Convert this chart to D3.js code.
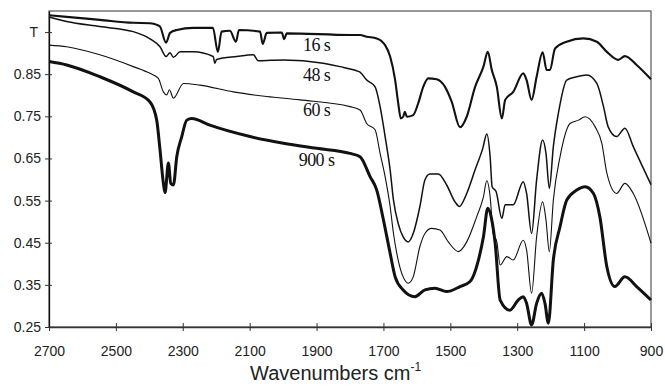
<!DOCTYPE html>
<html>
<head>
<meta charset="utf-8">
<script src="https://cdn.jsdelivr.net/npm/d3@7"></script>
<style>
  body { margin: 0; background: #fff; }
  svg { display: block; }
  .axis text { font-family: "Liberation Sans", Arial, sans-serif; font-size: 14px; fill: #222; }
  .series-label { font-family: "Liberation Serif", "Times New Roman", serif; font-size: 18px; letter-spacing: -0.6px; fill: #111; }
  .axis-title { font-family: "Liberation Sans", Arial, sans-serif; font-size: 20px; fill: #222; }
</style>
</head>
<body>
<svg id="chart" width="665" height="392"></svg>
<script>
// spectra: [wavenumber cm-1, transmittance]
const spec16 = [
  [2700, 0.990], [2647, 0.986], [2548, 0.979], [2448, 0.972], [2398, 0.971], [2377, 0.967],
  [2368, 0.963], [2350, 0.925], [2338, 0.948], [2318, 0.955], [2269, 0.960], [2210, 0.960],
  [2195, 0.903], [2184, 0.951], [2159, 0.953], [2141, 0.927], [2132, 0.955], [2069, 0.951],
  [2061, 0.922], [2049, 0.948], [2004, 0.949], [1997, 0.933], [1989, 0.947], [1800, 0.943],
  [1770, 0.943], [1750, 0.939], [1720, 0.935], [1705, 0.928], [1695, 0.919], [1680, 0.892],
  [1665, 0.836], [1656, 0.782], [1648, 0.745], [1641, 0.749], [1636, 0.761], [1630, 0.749],
  [1611, 0.753], [1596, 0.781], [1581, 0.820], [1566, 0.840], [1541, 0.838], [1516, 0.820],
  [1496, 0.785], [1471, 0.724], [1451, 0.749], [1426, 0.820], [1401, 0.868], [1388, 0.903],
  [1376, 0.860], [1361, 0.820], [1346, 0.745], [1336, 0.789], [1312, 0.808], [1282, 0.852],
  [1272, 0.836], [1257, 0.789], [1242, 0.844], [1224, 0.902], [1212, 0.860], [1202, 0.860],
  [1187, 0.911], [1152, 0.927], [1102, 0.935], [1062, 0.927], [1032, 0.903], [998, 0.884],
  [978, 0.893], [943, 0.872], [900, 0.838]
];
const spec48 = [
  [2700, 0.986], [2647, 0.975], [2548, 0.963], [2448, 0.951], [2398, 0.934], [2368, 0.915],
  [2350, 0.892], [2338, 0.901], [2328, 0.890], [2308, 0.903], [2269, 0.903], [2209, 0.892],
  [2204, 0.876], [2199, 0.885], [2139, 0.892], [2089, 0.896], [2074, 0.882], [1999, 0.884],
  [1880, 0.876], [1830, 0.868], [1780, 0.858], [1770, 0.855], [1750, 0.836], [1725, 0.820],
  [1710, 0.773], [1695, 0.702], [1680, 0.623], [1670, 0.551], [1656, 0.496], [1641, 0.464],
  [1626, 0.452], [1611, 0.472], [1591, 0.536], [1576, 0.599], [1561, 0.613], [1536, 0.613],
  [1511, 0.587], [1486, 0.547], [1473, 0.536], [1451, 0.567], [1426, 0.623], [1403, 0.674],
  [1391, 0.708], [1381, 0.654], [1375, 0.583], [1363, 0.571], [1346, 0.508], [1336, 0.540],
  [1312, 0.540], [1282, 0.595], [1272, 0.567], [1257, 0.472], [1242, 0.599], [1224, 0.694],
  [1214, 0.662], [1204, 0.579], [1192, 0.678], [1177, 0.757], [1152, 0.836], [1122, 0.844],
  [1092, 0.848], [1062, 0.828], [1042, 0.773], [1028, 0.725], [1003, 0.702], [978, 0.722],
  [953, 0.678], [900, 0.588]
];
const spec60 = [
  [2700, 0.919], [2647, 0.915], [2548, 0.896], [2448, 0.868], [2398, 0.852], [2373, 0.840],
  [2358, 0.808], [2348, 0.801], [2340, 0.813], [2328, 0.793], [2298, 0.828], [2249, 0.824],
  [2149, 0.808], [2049, 0.797], [1950, 0.789], [1800, 0.773], [1770, 0.765], [1750, 0.733],
  [1725, 0.718], [1710, 0.662], [1695, 0.607], [1680, 0.536], [1670, 0.472], [1656, 0.409],
  [1641, 0.369], [1626, 0.354], [1611, 0.369], [1591, 0.441], [1576, 0.472], [1556, 0.484],
  [1531, 0.480], [1506, 0.452], [1476, 0.429], [1451, 0.452], [1421, 0.512], [1401, 0.559],
  [1391, 0.597], [1381, 0.559], [1372, 0.472], [1361, 0.452], [1351, 0.397], [1331, 0.417],
  [1312, 0.409], [1282, 0.456], [1272, 0.433], [1257, 0.330], [1242, 0.464], [1224, 0.547],
  [1214, 0.504], [1204, 0.429], [1192, 0.551], [1172, 0.654], [1142, 0.733], [1117, 0.741],
  [1097, 0.749], [1067, 0.725], [1047, 0.686], [1032, 0.615], [1003, 0.567], [978, 0.591],
  [953, 0.567], [900, 0.449]
];
const spec900 = [
  [2700, 0.880], [2647, 0.872], [2548, 0.844], [2448, 0.808], [2398, 0.784], [2378, 0.741],
  [2368, 0.670], [2358, 0.591], [2353, 0.569], [2343, 0.639], [2336, 0.591], [2328, 0.587],
  [2318, 0.654], [2303, 0.702], [2288, 0.741], [2273, 0.745], [2219, 0.729], [2099, 0.702],
  [1999, 0.686], [1900, 0.674], [1800, 0.662], [1770, 0.654], [1740, 0.607], [1720, 0.575],
  [1700, 0.504], [1680, 0.425], [1665, 0.369], [1641, 0.338], [1606, 0.322], [1576, 0.338],
  [1546, 0.342], [1511, 0.334], [1471, 0.346], [1441, 0.358], [1416, 0.409], [1401, 0.464],
  [1388, 0.532], [1376, 0.504], [1366, 0.449], [1351, 0.314], [1322, 0.290], [1297, 0.314],
  [1282, 0.322], [1272, 0.306], [1257, 0.255], [1242, 0.306], [1227, 0.330], [1217, 0.306],
  [1207, 0.259], [1192, 0.409], [1172, 0.488], [1152, 0.551], [1122, 0.575], [1097, 0.583],
  [1072, 0.567], [1053, 0.512], [1032, 0.393], [1008, 0.346], [978, 0.369], [943, 0.346],
  [900, 0.314]
];

const seriesNames = ['16 s', '48 s', '60 s', '900 s'];
const seriesData = [spec16, spec48, spec60, spec900];
const labelWn = 1900;
const labelT = [0.906, 0.835, 0.751, 0.633];

const xTicks = [2700, 2500, 2300, 2100, 1900, 1700, 1500, 1300, 1100, 900];
const yTicks = [0.25, 0.35, 0.45, 0.55, 0.65, 0.75, 0.85, 0.95];
const yTickText = ['0.25', '0.35', '0.45', '0.55', '0.65', '0.75', '0.85', 'T'];

const width = 665, height = 392;
const margins = { top: 11, right: 14, bottom: 65, left: 49 };
const lineWidths = [2.1, 1.5, 1.1, 3];

const svg = d3.select('#chart');

const x = d3.scaleLinear()
  .domain([2700, 900])
  .range([margins.left, width - margins.right]);
const y = d3.scaleLinear()
  .domain([0.25, 1.0])
  .range([height - margins.bottom, margins.top]);

// frame top + right
svg.append('rect')
  .attr('x', margins.left)
  .attr('y', margins.top)
  .attr('width', width - margins.left - margins.right)
  .attr('height', height - margins.top - margins.bottom)
  .attr('fill', 'none')
  .attr('stroke', '#555')
  .attr('stroke-width', 1.2);

// spectra
const line = d3.line()
  .x(d => x(d[0]))
  .y(d => y(d[1]))
  .curve(d3.curveMonotoneX);

svg.append('g')
  .attr('id', 'spectra')
  .selectAll('path')
  .data(seriesData)
  .join('path')
  .attr('d', line)
  .attr('fill', 'none')
  .attr('stroke', '#111')
  .attr('stroke-linejoin', 'round')
  .attr('stroke-width', (d, i) => lineWidths[i]);

// x axis
const xAxis = d3.axisBottom(x)
  .tickValues(xTicks)
  .tickFormat(d3.format('d'))
  .tickSizeInner(4)
  .tickSizeOuter(0)
  .tickPadding(15);
const gx = svg.append('g')
  .attr('class', 'axis x-axis')
  .attr('transform', `translate(0, ${height - margins.bottom})`)
  .call(xAxis);
gx.select('.domain').attr('stroke', '#333').attr('stroke-width', 1.3);
gx.selectAll('.tick line').attr('y1', -4).attr('stroke', '#333');
gx.selectAll('.tick text').attr('font-size', null).attr('font-family', null);

// y axis
const yAxis = d3.axisLeft(y)
  .tickValues(yTicks)
  .tickFormat((d, i) => yTickText[i])
  .tickSizeInner(4)
  .tickSizeOuter(0)
  .tickPadding(4);
const gy = svg.append('g')
  .attr('class', 'axis y-axis')
  .attr('transform', `translate(${margins.left}, 0)`)
  .call(yAxis);
gy.select('.domain').attr('stroke', '#111').attr('stroke-width', 1.3);
gy.selectAll('.tick line').attr('x1', 3).attr('stroke', '#333');
gy.selectAll('.tick text').attr('font-size', null).attr('font-family', null);
gy.selectAll('.tick text').filter(d => d === 0.95).attr('dx', -3);

// series labels
svg.append('g')
  .selectAll('text')
  .data(seriesNames)
  .join('text')
  .attr('class', 'series-label')
  .attr('x', x(labelWn))
  .attr('y', (d, i) => y(labelT[i]))
  .attr('text-anchor', 'middle')
  .text(d => d);

// axis title
const title = svg.append('text')
  .attr('class', 'axis-title')
  .attr('x', 250)
  .attr('y', 380);
title.append('tspan').text('Wavenumbers cm');
title.append('tspan')
  .attr('font-size', 12)
  .attr('dy', -9)
  .text('-1');
</script>
</body>
</html>
